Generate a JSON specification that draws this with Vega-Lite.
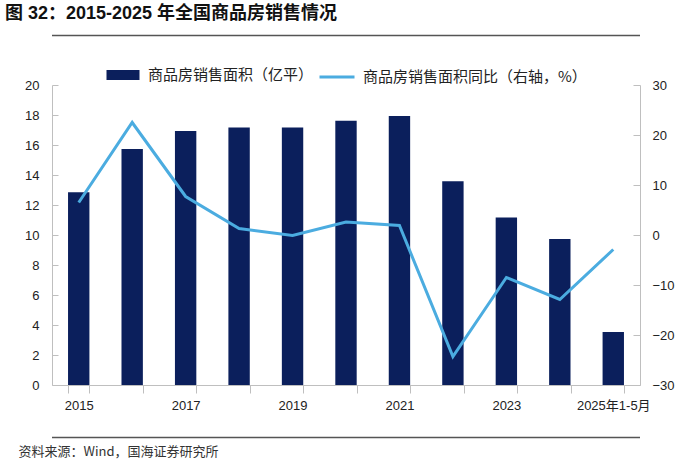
{
  "$schema": "https://vega.github.io/schema/vega-lite/v6.json",
  "width": 588,
  "height": 300,
  "autosize": {"type": "none"},
  "padding": {"left": 52, "top": 85, "right": 60, "bottom": 86},
  "background": "white",
  "title": {
    "text": "图 32：2015-2025 年全国商品房销售情况",
    "anchor": "start",
    "frame": "group",
    "dx": -47,
    "dy": -8,
    "font": "Liberation Sans, Noto Sans CJK SC",
    "fontSize": 18,
    "fontWeight": "bold",
    "color": "#111111"
  },
  "data": {
    "values": [
      {"year": "2015", "area": 12.85, "yoy": 6.5},
      {"year": "2016", "area": 15.73, "yoy": 22.5},
      {"year": "2017", "area": 16.94, "yoy": 7.7},
      {"year": "2018", "area": 17.17, "yoy": 1.3},
      {"year": "2019", "area": 17.16, "yoy": -0.1},
      {"year": "2020", "area": 17.61, "yoy": 2.6},
      {"year": "2021", "area": 17.94, "yoy": 1.9},
      {"year": "2022", "area": 13.58, "yoy": -24.3},
      {"year": "2023", "area": 11.17, "yoy": -8.5},
      {"year": "2024", "area": 9.74, "yoy": -12.9},
      {"year": "2025年1-5月", "area": 3.53, "yoy": -2.9}
    ]
  },
  "layer": [
    {
      "mark": {"type": "bar"},
      "encoding": {
        "x": {
          "field": "year",
          "type": "ordinal",
          "sort": null,
          "scale": {"paddingInner": 0.6, "paddingOuter": 0.3},
          "axis": {
            "labelAngle": 0,
            "tickBand": "extent",
            "tickSize": 8,
            "tickColor": "#BFBFBF",
            "domainColor": "#BFBFBF",
            "labelFont": "Liberation Sans, Noto Sans CJK SC",
            "labelFontSize": 13,
            "labelColor": "#222222",
            "labelPadding": 6,
            "labelExpr": "indexof(['2015','2017','2019','2021','2023','2025年1-5月'], datum.value) >= 0 ? datum.label : ''",
            "title": "资料来源：Wind，国海证券研究所",
            "titleFont": "Noto Sans CJK SC",
            "titleFontSize": 13,
            "titleFontWeight": "normal",
            "titleColor": "#333333",
            "titleAnchor": "start",
            "titleAlign": "left",
            "titleBaseline": "middle",
            "titleX": -34,
            "titleY": 66
          }
        },
        "y": {
          "field": "area",
          "type": "quantitative",
          "scale": {"domain": [0, 20]},
          "axis": {
            "title": null,
            "values": [0, 2, 4, 6, 8, 10, 12, 14, 16, 18, 20],
            "grid": false,
            "tickSize": -6,
            "tickColor": "#BFBFBF",
            "domainColor": "#BFBFBF",
            "labelPadding": 19,
            "labelFont": "Liberation Sans",
            "labelFontSize": 13,
            "labelColor": "#222222"
          }
        },
        "fill": {
          "datum": "商品房销售面积（亿平）",
          "scale": {"range": ["#0B1F5C"]},
          "legend": {
            "orient": "none",
            "legendX": 60,
            "legendY": -21,
            "title": null,
            "padding": 0,
            "symbolType": "M-1.5,-0.45H1.5V0.45H-1.5Z",
            "symbolSize": 484,
            "symbolStrokeWidth": 0,
            "labelOffset": 14,
            "labelFont": "Noto Sans CJK SC",
            "labelFontSize": 15,
            "labelColor": "#222222",
            "labelLimit": 400
          }
        }
      }
    },
    {
      "mark": {"type": "line", "strokeWidth": 3},
      "encoding": {
        "x": {
          "field": "year",
          "type": "ordinal",
          "sort": null
        },
        "y": {
          "field": "yoy",
          "type": "quantitative",
          "scale": {"domain": [-30, 30]},
          "axis": {
            "orient": "right",
            "title": null,
            "values": [-30, -20, -10, 0, 10, 20, 30],
            "grid": false,
            "tickSize": -7,
            "tickColor": "#BFBFBF",
            "domainColor": "#BFBFBF",
            "labelPadding": 19,
            "labelFont": "Liberation Sans",
            "labelFontSize": 13,
            "labelColor": "#222222"
          }
        },
        "stroke": {
          "datum": "商品房销售面积同比（右轴，%）",
          "scale": {"range": ["#4BACE0"]},
          "legend": {
            "orient": "none",
            "legendX": 266,
            "legendY": -27,
            "title": null,
            "padding": 0,
            "symbolType": "stroke",
            "symbolSize": 1225,
            "symbolStrokeWidth": 3,
            "labelOffset": 7,
            "labelFont": "Noto Sans CJK SC",
            "labelFontSize": 15,
            "labelColor": "#222222",
            "labelLimit": 400
          }
        }
      }
    },
    {
      "data": {"values": [{}]},
      "mark": {"type": "rule", "color": "#555555", "strokeWidth": 1.5, "clip": false},
      "encoding": {
        "y": {"datum": 23.3, "type": "quantitative", "scale": {"domain": [0, 20]}, "axis": null}
      }
    },
    {
      "data": {"values": [{}]},
      "mark": {"type": "rule", "color": "#555555", "strokeWidth": 1.5, "clip": false},
      "encoding": {
        "y": {"datum": -3.5, "type": "quantitative", "scale": {"domain": [0, 20]}, "axis": null}
      }
    }
  ],
  "resolve": {"scale": {"y": "independent"}},
  "config": {"view": {"stroke": null}}
}
